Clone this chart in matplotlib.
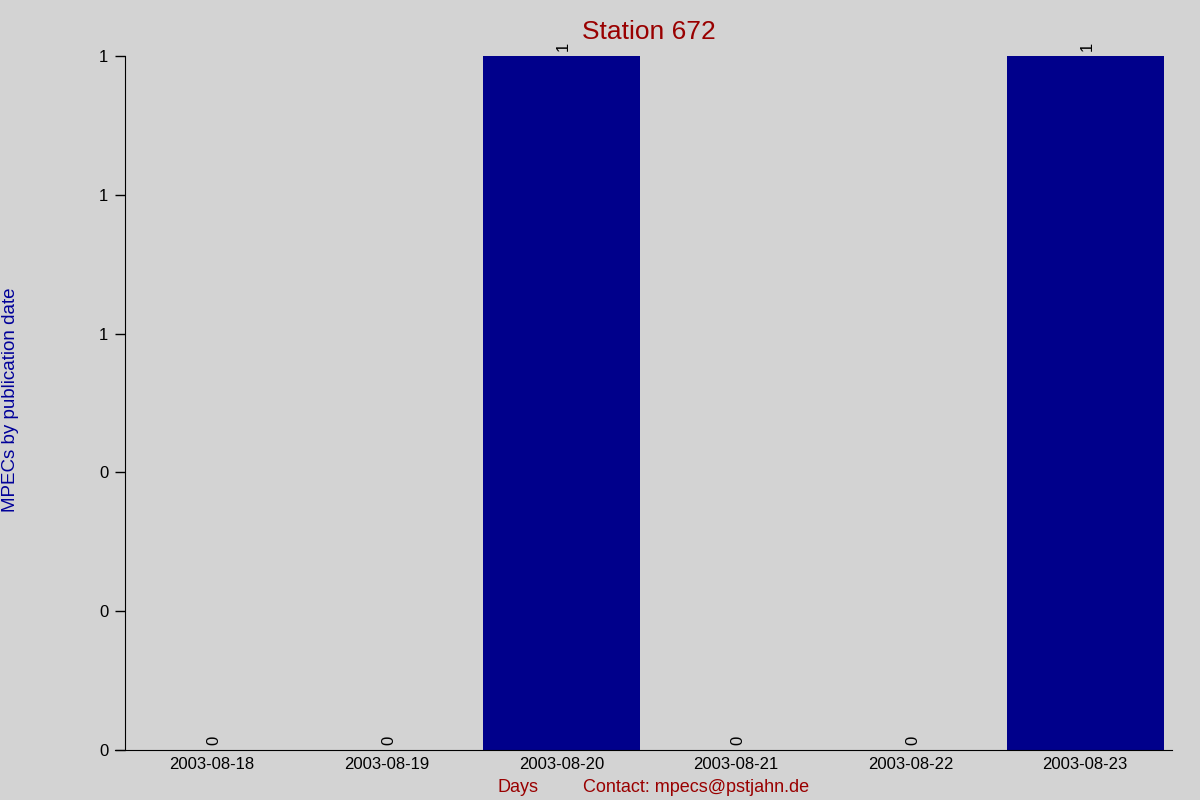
import matplotlib
matplotlib.use("Agg")
from matplotlib import pyplot as plt
from matplotlib.ticker import FuncFormatter

# MPECs per day for the station
days = ["2003-08-18", "2003-08-19", "2003-08-20", "2003-08-21", "2003-08-22", "2003-08-23"]
mpecs = [0, 0, 1, 0, 0, 1]

title = "Station 672"
y_label = "MPECs by publication date"

plt.rcParams['font.family'] = ['Liberation Sans', 'DejaVu Sans']

fig = plt.figure(figsize=(12, 8), dpi=100, facecolor='#d3d3d3')
ax = fig.add_axes([0.104, 0.0625, 0.873, 0.8675])
ax.set_facecolor('#d3d3d3')

pos = list(range(len(days)))
bars = ax.bar(pos, mpecs, width=0.9, color='#00008b')

for x, v in zip(pos, mpecs):
    ax.annotate(f"{v}", (x, v), xytext=(1.5, 3.5), textcoords='offset points',
                rotation=90, ha='center', va='bottom', fontsize=12, color='black')

ax.set_xlim(-0.5, len(days) - 0.5)
ax.set_ylim(0, 1)
ax.set_xticks(pos)
ax.set_xticklabels(days, fontsize=12)
ax.tick_params(axis='x', length=0, pad=5)
ax.set_yticks([0, 0.2, 0.4, 0.6, 0.8, 1.0])
ax.yaxis.set_major_formatter(FuncFormatter(lambda y, p: '{:.0f}'.format(y)))
ax.tick_params(axis='y', length=7, width=1, labelsize=12, pad=5)

ax.spines['top'].set_visible(False)
ax.spines['right'].set_visible(False)
ax.spines['bottom'].set_bounds(-0.555, len(days) - 0.5)

ax.set_title(title, color='#990000', fontsize=19, pad=12)
fig.text(0.002, 0.5, y_label, rotation=90, color='#000099', fontsize=13.5,
         ha='left', va='center')
fig.text(0.432, 0.005, "Days", color='#990000', fontsize=13, ha='center', va='bottom')
fig.text(0.58, 0.005, "Contact: mpecs@pstjahn.de", color='#990000', fontsize=13,
         ha='center', va='bottom')

fig.savefig("out.png", dpi=100, facecolor=fig.get_facecolor())
